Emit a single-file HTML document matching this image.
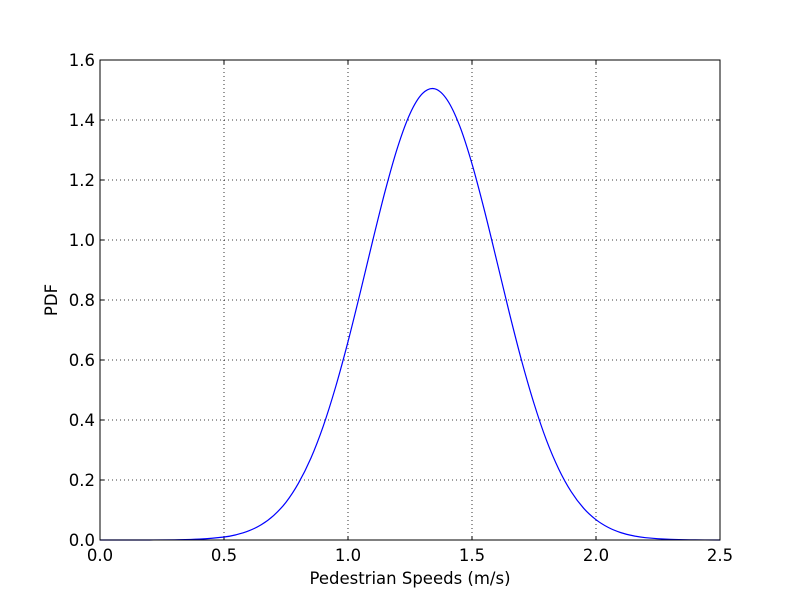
<!DOCTYPE html>
<html><head><meta charset="utf-8"><style>
body{margin:0;background:#fff;}
svg{display:block;font-family:"DejaVu Sans","Liberation Sans",sans-serif;}
</style></head><body>
<svg id="chart" width="800" height="600">
<rect width="800" height="600" fill="#fff"/>
<g id="grid"></g><g id="ticks"></g>
<path id="curve" fill="none" stroke="#0000ff" stroke-width="1.2"/>
<rect x="100" y="60" width="620" height="480" fill="none" stroke="#000" stroke-width="1"/>
<text x="410" y="584" font-size="16.5" text-anchor="middle">Pedestrian Speeds (m/s)</text>
<text x="57" y="300" font-size="16.5" text-anchor="middle" transform="rotate(-90 57 300)">PDF</text>
</svg>
<script>
const xTicks=[0,0.5,1.0,1.5,2.0,2.5];
const xTickLabels=["0.0","0.5","1.0","1.5","2.0","2.5"];
const yTicks=[0,0.2,0.4,0.6,0.8,1.0,1.2,1.4,1.6];
const yTickLabels=["0.0","0.2","0.4","0.6","0.8","1.0","1.2","1.4","1.6"];
const speeds=[0,0.1,0.2,0.3,0.4,0.5,0.55,0.6,0.65,0.7,0.75,0.8,0.85,0.9,0.95,1.0,1.05,1.1,1.15,1.2,1.25,1.3,1.35,1.4,1.45,1.5,1.55,1.6,1.65,1.7,1.75,1.8,1.85,1.9,1.95,2.0,2.05,2.1,2.15,2.2,2.3,2.4,2.5];
const pdfValues=[0,0,0.0001,0.0007,0.0028,0.0099,0.0177,0.0305,0.0507,0.0815,0.126,0.189,0.272,0.379,0.510,0.661,0.827,0.999,1.164,1.309,1.421,1.488,1.504,1.467,1.381,1.254,1.099,0.930,0.759,0.598,0.455,0.333,0.236,0.161,0.106,0.0677,0.0416,0.0246,0.0141,0.0078,0.0021,0.0005,0.0001];
const L=100,R=720,T=60,B=540;
const sx=v=>L+(v-0)/(2.5-0)*(R-L);
const sy=v=>B-(v-0)/(1.6-0)*(B-T);
const NS="http://www.w3.org/2000/svg";
const grid=document.getElementById('grid'),ticks=document.getElementById('ticks');
function mk(tag,attrs,parent){const e=document.createElementNS(NS,tag);for(const k in attrs)e.setAttribute(k,attrs[k]);parent.appendChild(e);return e;}
xTicks.forEach((v,i)=>{const x=sx(v);
 const g=mk('line',{x1:x,x2:x,y1:T,y2:B,stroke:'#000','stroke-width':0.8,'stroke-dasharray':'1,3'},grid);
 
 
 const t1=mk('line',{x1:x,x2:x,y1:B,y2:B-4,stroke:'#000'},ticks);
 
 
 const t2=mk('line',{x1:x,x2:x,y1:T,y2:T+4,stroke:'#000'},ticks);
 
 
 const tx=mk('text',{x:x,y:B+21,'font-size':16.5,'text-anchor':'middle'},ticks);tx.textContent=xTickLabels[i];
 
 
});
yTicks.forEach((v,i)=>{const y=sy(v);
 const g=mk('line',{x1:L,x2:R,y1:y,y2:y,stroke:'#000','stroke-width':0.8,'stroke-dasharray':'1,3'},grid);
 
 
 const t1=mk('line',{x1:L,x2:L+4,y1:y,y2:y,stroke:'#000'},ticks);
 
 
 const t2=mk('line',{x1:R,x2:R-4,y1:y,y2:y,stroke:'#000'},ticks);
 
 
 const tx=mk('text',{x:L-5,y:y+6,'font-size':16.5,'text-anchor':'end'},ticks);tx.textContent=yTickLabels[i];
 
 
});
const pts=speeds.map((s,i)=>[sx(s),sy(pdfValues[i])]);
let d='M'+pts[0][0]+','+pts[0][1];
for(let i=0;i<pts.length-1;i++){const p0=pts[Math.max(0,i-1)],p1=pts[i],p2=pts[i+1],p3=pts[Math.min(pts.length-1,i+2)];
 d+=' C'+(p1[0]+(p2[0]-p0[0])/6)+','+(p1[1]+(p2[1]-p0[1])/6)+' '+(p2[0]-(p3[0]-p1[0])/6)+','+(p2[1]-(p3[1]-p1[1])/6)+' '+p2[0]+','+p2[1];}
document.getElementById('curve').setAttribute('d',d);
</script>
</body></html>
